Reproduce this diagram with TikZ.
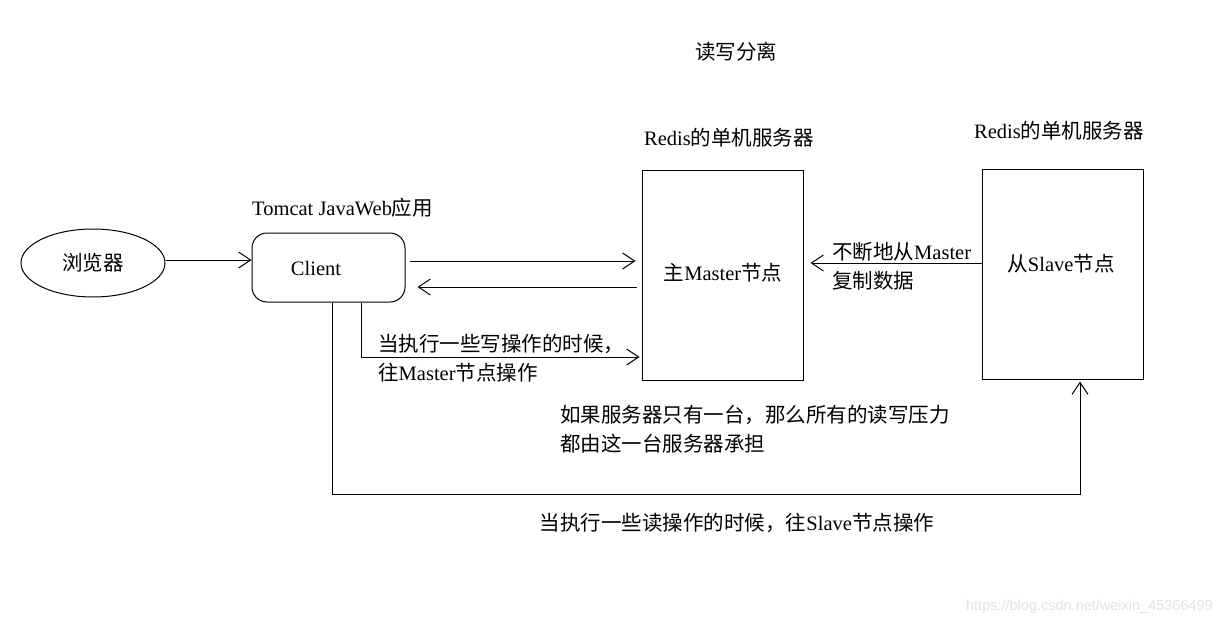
\documentclass[tikz,border=0pt]{standalone}
\usepackage{fontspec}
\setmainfont{Liberation Serif}
\newfontfamily\cjk{Noto Sans CJK SC}
\newfontfamily\wmfont{Liberation Sans}
\newcommand{\zh}[1]{{\cjk #1}}
\usepackage{tikz}
\usetikzlibrary{arrows.meta, positioning, calc, shapes.geometric}
\definecolor{rwline}{RGB}{0,0,0}
\definecolor{rwmark}{RGB}{226,226,226}

\begin{document}
\begin{tikzpicture}[x=1pt, y=-1pt,
  txt/.style={font=\fontsize{20.5}{29}\selectfont, inner sep=0pt},
  server/.style={draw=rwline, line width=1pt, minimum width=161pt, minimum height=210pt, inner sep=0pt},
  arr/.style={-{Straight Barb[length=12pt, width=16pt]}, line width=1pt, draw=rwline}]
% canvas
\fill[white] (0,0) rectangle (1222,626);
\useasboundingbox (0,0) rectangle (1222,626);

% title
\node[txt] (title) at (736,52) {\zh{读写分离}};

% browser + client
\node[txt, draw=rwline, ellipse, line width=1pt, minimum width=144pt, minimum height=68pt] (browser) at (93,263) {\zh{浏览器}};
\node[draw=rwline, rounded corners=15pt, line width=1pt, minimum width=153pt, minimum height=69pt] (client) at (328.5,267.5) {};
\node[txt] (clienttxt) at (316,268) {Client};
\node[txt, anchor=west] (tomcat) at (252,208) {Tomcat JavaWeb\zh{应用}};

% ---- servers ----
\node[server] (master) at (722.5,275) {};
\node[txt] (mastertxt) at (723,273) {\zh{主}Master\zh{节点}};
\node[txt] (masterlbl) at (729,138) {Redis\zh{的单机服务器}};

\node[server] (slave) at (1062.5,274) {};
\node[txt] (slavetxt) at (1061,264) {\zh{从}Slave\zh{节点}};
\node[txt] (slavelbl) at (1059,131) {Redis\zh{的单机服务器}};

% connectors
\draw[arr] ([yshift=3pt]browser.east) -- ([yshift=3pt]browser.east -| client.west);
\draw[arr, shorten <=4pt, shorten >=6pt] ([yshift=6.5pt]client.east) -- ([yshift=6.5pt]client.east -| master.west);
\draw[arr, shorten <=5pt, shorten >=12pt] ([yshift=-12pt]master.west) -- ([yshift=-12pt]master.west -| client.east);
\draw[arr, shorten >=7pt] ([yshift=11pt]slave.west) -- ([yshift=11pt]slave.west -| master.east);
\draw[arr, shorten >=2pt] ([xshift=32.5pt]client.south) |- ([yshift=-82pt]master.west);
\draw[arr, shorten >=2pt] ([xshift=3.5pt]client.south) -- ++(0,192) -| ([xshift=17.5pt]slave.south);

% labels
\node[txt, anchor=west, align=left] (repllbl) at (832,266.5) {\zh{不断地从}Master\\\zh{复制数据}};
\node[txt, anchor=west, align=left] (writelbl) at (378,358.5) {\zh{当执行一些写操作的时候，}\\\zh{往}Master\zh{节点操作}};
\node[txt, anchor=west, align=left] (singlelbl) at (560,429) {\zh{如果服务器只有一台，那么所有的读写压力}\\\zh{都由这一台服务器承担}};
\node[txt] (readlbl) at (737,523) {\zh{当执行一些读操作的时候，往}Slave\zh{节点操作}};

% watermark
\node[font=\wmfont\fontsize{14.5}{16}\selectfont, text=rwmark, anchor=east, inner sep=0pt] (mark) at (1213,607) {https://blog.csdn.net/weixin\_45366499};
\end{tikzpicture}
\end{document}
